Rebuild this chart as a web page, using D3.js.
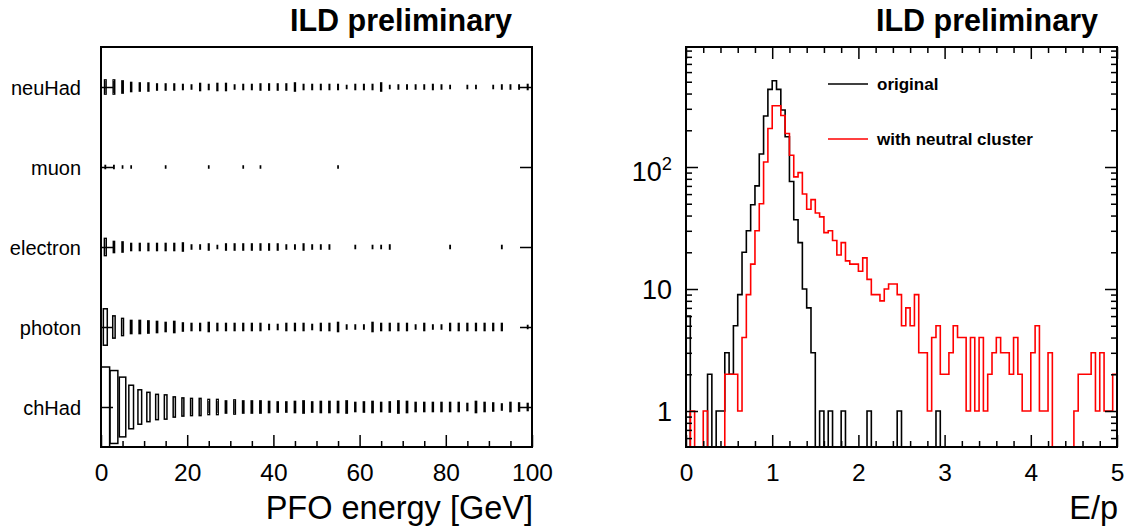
<!DOCTYPE html>
<html><head><meta charset="utf-8">
<script src="https://cdn.jsdelivr.net/npm/d3@7"></script>
<style>
body{margin:0;background:#fff}
text{font-family:"Liberation Sans",Arial,Helvetica,sans-serif;fill:#000}
</style>
</head><body>
<svg id="c" width="1127" height="526"></svg>
<script>
// ---------------- DATA ----------------
// Left panel: 2D histogram (PFO type vs energy), 2 GeV bins from 0 to 100 GeV
const categories = ["neuHad","muon","electron","photon","chHad"];
const energyBinWidth = 2;
const neuHad = [196,196,144,81,64,64,36,36,36,25, 16,49,25,49,49,16,25,25,36,36,
                36,36,64,25,25,25,25,25,9,25, 25,25,64,9,16,16,16,16,25,16,
                9,0,9,9,0,9,16,16,16,25];
const muon = [9,9,4,4,0,0,0,4,0,0, 0,0,4,0,0,0,4,0,4,0, 0,0,0,0,0,0,0,4,0,0,
              0,0,0,0,0,0,0,0,0,0, 0,0,0,0,0,0,0,0,0,0];
const electron = [289,121,100,49,49,49,49,49,49,64, 16,16,36,9,36,36,36,36,36,36,
                  36,16,16,36,16,16,16,0,0,9, 0,9,9,16,0,0,0,0,0,0,
                  9,0,0,0,0,0,9,0,0,0];
const photon = [1296,484,289,169,169,144,121,81,121,64, 49,49,81,49,49,49,49,49,49,25,
                25,49,49,49,25,49,49,81,16,16, 16,81,49,49,49,49,16,49,16,16,
                49,49,49,49,49,49,49,0,0,9];
const chHad = [6241,5184,3481,1849,1156,841,625,576,400,324, 289,289,225,225,144,196,144,144,144,121,
               100,100,121,144,100,121,121,121,144,81, 100,121,81,100,144,121,81,81,81,81,
               81,81,49,121,81,64,36,81,64,49];
const energyTicks = [0,20,40,60,80,100];
const energyMinorStep = 5;

// Right panel: E/p histograms, 0.05 bins from 0 to 5
const epBinWidth = 0.05;
const original = [6,0,0,0,0,2,0,1,1,3, 2,5,9,20,30,49,70,128,262,433,
                  510,433,293,177,76,37,24,10,7,3, 0,1,0,1,0,0,1,0,0,0,
                  0,0,1,0,0,0,0,0,0,1, 0,0,0,0,0,0,0,0,1,0,
                  0,0,0,0,0,0,0,0,0,0, 0,0,0,0,0,0,0,0,0,0,
                  0,0,0,0,0,0,0,0,0,0, 0,0,0,0,0,0,0,0,0,0];
const withNeutral = [0,1,0,0,1,0,0,0,0,2, 2,2,1,4,9,16,30,50,110,207,
                     318,318,264,188,125,83,90,60,45,54, 42,39,29,30,25,19,24,17,16,16,
                     14,18,12,9,9,8,10,11,11,9, 5,7,5,9,3,3,1,4,5,2,
                     2,3,5,4,4,1,4,1,4,1, 2,3,4,3,3,2,4,2,1,1,
                     3,5,1,1,3,0,0,0,0,0, 1,2,2,2,3,1,3,1,1,2];
const epTicks = [0,1,2,3,4,5];
const epMinorStep = 0.2;
const countTicks = [1,10,100];
const countMinor = [0.6,0.7,0.8,0.9,2,3,4,5,6,7,8,9,20,30,40,50,60,70,80,90,200,300,400,500,600,700,800,900];
const legendLabels = ["original","with neutral cluster"];
const seriesColors = ["#000000","#ff0000"];

// ---------------- LAYOUT ----------------
const svg = d3.select("#c");
const L = {x0:101, x1:532, y0:47, y1:447};
const R = {x0:686, x1:1117, y0:47, y1:447};
const FONT_TICK = 24.5, FONT_TITLE = 32.5;

function styleAxis(g, fontSize){
  g.select(".domain").remove();
  g.selectAll(".tick line").attr("stroke","#000").attr("stroke-width",1.5);
  g.selectAll(".tick text").attr("font-size",fontSize).attr("font-family","Liberation Sans, Arial, sans-serif").attr("fill","#000");
}

// ---------- LEFT PANEL ----------
const xL = d3.scaleLinear().domain([0,100]).range([L.x0,L.x1]);
const yL = d3.scaleBand().domain(categories).range([L.y0,L.y1]).padding(0);
const boxData = {neuHad, muon, electron, photon, chHad};
const cmax = d3.max(categories.flatMap(c => boxData[c]));
const bw = xL(energyBinWidth) - xL(0);
const bh = yL.bandwidth();

const gBoxes = svg.append("g");
categories.forEach(cat => {
  boxData[cat].forEach((c,i) => {
    if (c <= 0) return;
    const s = Math.sqrt(c / cmax);
    const xc = xL(i*energyBinWidth + energyBinWidth/2);
    const yc = yL(cat) + bh/2;
    const w = bw*s, h = bh*s;
    gBoxes.append("rect")
      .attr("x", xc - w/2).attr("y", yc - h/2)
      .attr("width", w).attr("height", h)
      .attr("fill","none").attr("stroke","#000").attr("stroke-width",1.5);
  });
});

// x axis (ticks inward)
const gxL = svg.append("g").attr("transform",`translate(0,${L.y1})`)
  .call(d3.axisBottom(xL).tickValues(energyTicks).tickSize(-12).tickPadding(17).tickFormat(d3.format("d")));
styleAxis(gxL, FONT_TICK);
const gxLm = svg.append("g").attr("transform",`translate(0,${L.y1})`)
  .call(d3.axisBottom(xL).tickValues(d3.range(0,100+1e-9,energyMinorStep).filter(v=>!energyTicks.includes(v))).tickSize(-6).tickFormat(""));
styleAxis(gxLm, FONT_TICK);

// y axis category ticks left and right
const yLc = d3.scalePoint().domain(categories).range([L.y0+bh/2, L.y1-bh/2]);
const gyL = svg.append("g").attr("transform",`translate(${L.x0},0)`)
  .call(d3.axisLeft(yLc).tickSize(-12).tickPadding(20));
styleAxis(gyL, 20);
gyL.selectAll(".tick text").attr("x",-20).attr("dy","0.35em");
const gyLr = svg.append("g").attr("transform",`translate(${L.x1},0)`)
  .call(d3.axisRight(yLc).tickSize(-12).tickFormat(""));
styleAxis(gyLr, 20);

svg.append("rect").attr("x",L.x0).attr("y",L.y0).attr("width",L.x1-L.x0).attr("height",L.y1-L.y0)
  .attr("fill","none").attr("stroke","#000").attr("stroke-width",2);

svg.append("text").attr("x",L.x1-20).attr("y",31).attr("text-anchor","end")
  .attr("font-size",30.5).attr("font-weight","bold").text("ILD preliminary");
svg.append("text").attr("x",L.x1+1).attr("y",518.5).attr("text-anchor","end")
  .attr("font-size",FONT_TITLE).text("PFO energy [GeV]");

// ---------- RIGHT PANEL ----------
const xR = d3.scaleLinear().domain([0,5]).range([R.x0,R.x1]);
const yR = d3.scaleLog().domain([0.507,963]).range([R.y1,R.y0]);

svg.append("clipPath").attr("id","clipR").append("rect")
  .attr("x",R.x0).attr("y",R.y0).attr("width",R.x1-R.x0).attr("height",R.y1-R.y0);

function stepPath(vals){
  let p = `M${xR(0)},${R.y1}`;
  vals.forEach((v,i) => {
    const y = v > 0 ? yR(v) : R.y1;
    p += `V${y}H${xR((i+1)*epBinWidth)}`;
  });
  return p + `V${R.y1}`;
}
const gH = svg.append("g").attr("clip-path","url(#clipR)");
[original, withNeutral].forEach((vals,k) => {
  gH.append("path").attr("d", stepPath(vals)).attr("fill","none")
    .attr("stroke", seriesColors[k]).attr("stroke-width",1.6);
});

// x ticks bottom/top
const epMinor = d3.range(0,5+1e-9,epMinorStep).map(v=>+v.toFixed(2)).filter(v=>!epTicks.includes(v));
const gxR = svg.append("g").attr("transform",`translate(0,${R.y1})`)
  .call(d3.axisBottom(xR).tickValues(epTicks).tickSize(-12).tickPadding(17).tickFormat(d3.format("d")));
styleAxis(gxR, FONT_TICK);
const gxRm = svg.append("g").attr("transform",`translate(0,${R.y1})`)
  .call(d3.axisBottom(xR).tickValues(epMinor).tickSize(-6).tickFormat(""));
styleAxis(gxRm, FONT_TICK);
const gxRt = svg.append("g").attr("transform",`translate(0,${R.y0})`)
  .call(d3.axisTop(xR).tickValues(epTicks).tickSize(-12).tickFormat(""));
styleAxis(gxRt, FONT_TICK);
const gxRtm = svg.append("g").attr("transform",`translate(0,${R.y0})`)
  .call(d3.axisTop(xR).tickValues(epMinor).tickSize(-6).tickFormat(""));
styleAxis(gxRtm, FONT_TICK);

// y ticks left/right
[[R.x0, d3.axisLeft],[R.x1, d3.axisRight]].forEach(([x0,ax]) => {
  const g1 = svg.append("g").attr("transform",`translate(${x0},0)`)
    .call(ax(yR).tickValues(countTicks).tickSize(-12).tickFormat(""));
  styleAxis(g1, FONT_TICK);
  const g2 = svg.append("g").attr("transform",`translate(${x0},0)`)
    .call(ax(yR).tickValues(countMinor).tickSize(-6).tickFormat(""));
  styleAxis(g2, FONT_TICK);
});
// y labels
countTicks.forEach(v => {
  const t = svg.append("text").attr("x",R.x0-14).attr("y",yR(v)).attr("dy","0.36em")
    .attr("text-anchor","end").attr("font-size",27);
  const exp = Math.round(Math.log10(v));
  if (exp < 2) t.text(String(v));
  else {
    t.attr("dy","0.5em");
    t.append("tspan").text("10");
    t.append("tspan").attr("dy","-0.55em").attr("font-size",27*0.68).text(String(exp));
  }
});

svg.append("rect").attr("x",R.x0).attr("y",R.y0).attr("width",R.x1-R.x0).attr("height",R.y1-R.y0)
  .attr("fill","none").attr("stroke","#000").attr("stroke-width",2);

// legend
const legY = [84,139];
legendLabels.forEach((lab,k) => {
  svg.append("line").attr("x1",828).attr("x2",868).attr("y1",legY[k]).attr("y2",legY[k])
    .attr("stroke",seriesColors[k]).attr("stroke-width",1.5);
  svg.append("text").attr("x",877).attr("y",legY[k]).attr("dy","0.35em")
    .attr("font-size",17).attr("font-weight","bold").text(lab);
});

svg.append("text").attr("x",R.x1-19).attr("y",31).attr("text-anchor","end")
  .attr("font-size",30.5).attr("font-weight","bold").text("ILD preliminary");
svg.append("text").attr("x",R.x1+1).attr("y",518.5).attr("text-anchor","end")
  .attr("font-size",FONT_TITLE).text("E/p");
</script>
</body></html>
